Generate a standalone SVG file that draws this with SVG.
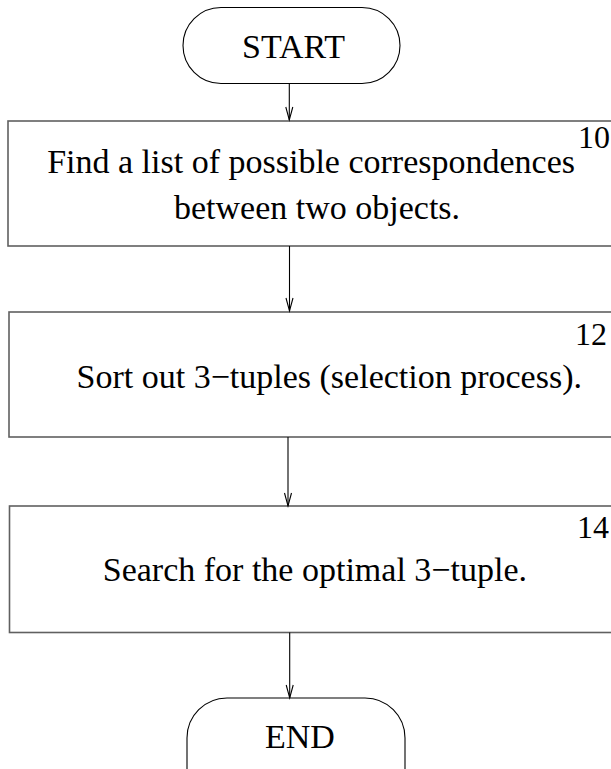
<svg xmlns="http://www.w3.org/2000/svg" width="611" height="769" viewBox="0 0 611 769">
  <style>
    text { font-family: "Liberation Serif", "Times New Roman", serif; font-size: 34px; fill: #000; }
    .num { font-size: 32px; }
    .box { fill: #fff; stroke: #606060; stroke-width: 1.6; }
    .term { fill: #fff; stroke: #000; stroke-width: 1.1; }
    .wire { fill: none; stroke: #000; stroke-width: 1.1; }
    .head { fill: none; stroke: #000; stroke-width: 1.1; }
  </style>
  <rect width="611" height="769" fill="#fff"/>

  <g id="start">
    <rect class="term" x="183" y="7.5" width="217" height="76" rx="38" ry="38"/>
    <text x="242" y="58">START</text>
  </g>

  <g id="step10">
    <rect class="box" x="8" y="121" width="660" height="125"/>
    <text x="575" y="173" text-anchor="end">Find a list of possible correspondences</text>
    <text x="174" y="219">between two objects.</text>
    <text class="num" x="578" y="148">10</text>
  </g>

  <g id="step12">
    <rect class="box" x="9" y="312" width="660" height="125"/>
    <text x="582" y="388" text-anchor="end">Sort out 3−tuples (selection process).</text>
    <text class="num" x="575" y="345">12</text>
  </g>

  <g id="step14">
    <rect class="box" x="9.5" y="506" width="660" height="126.5"/>
    <text x="527" y="581" text-anchor="end">Search for the optimal 3−tuple.</text>
    <text class="num" x="577" y="538">14</text>
  </g>

  <g id="end">
    <rect class="term" x="187" y="698" width="218" height="120" rx="40" ry="40"/>
    <text x="265" y="748">END</text>
  </g>

  <g id="connectors">
    <path class="wire" d="M289.3 83.5 V120"/>
    <path class="head" d="M285.8 107 L289.3 120 L292.8 107"/>
    <path class="wire" d="M289.5 246 V311"/>
    <path class="head" d="M286 298 L289.5 311 L293 298"/>
    <path class="wire" d="M288 437 V506"/>
    <path class="head" d="M284.5 493 L288 506 L291.5 493"/>
    <path class="wire" d="M289.7 632.5 V698"/>
    <path class="head" d="M286.2 685 L289.7 698 L293.2 685"/>
  </g>
</svg>
